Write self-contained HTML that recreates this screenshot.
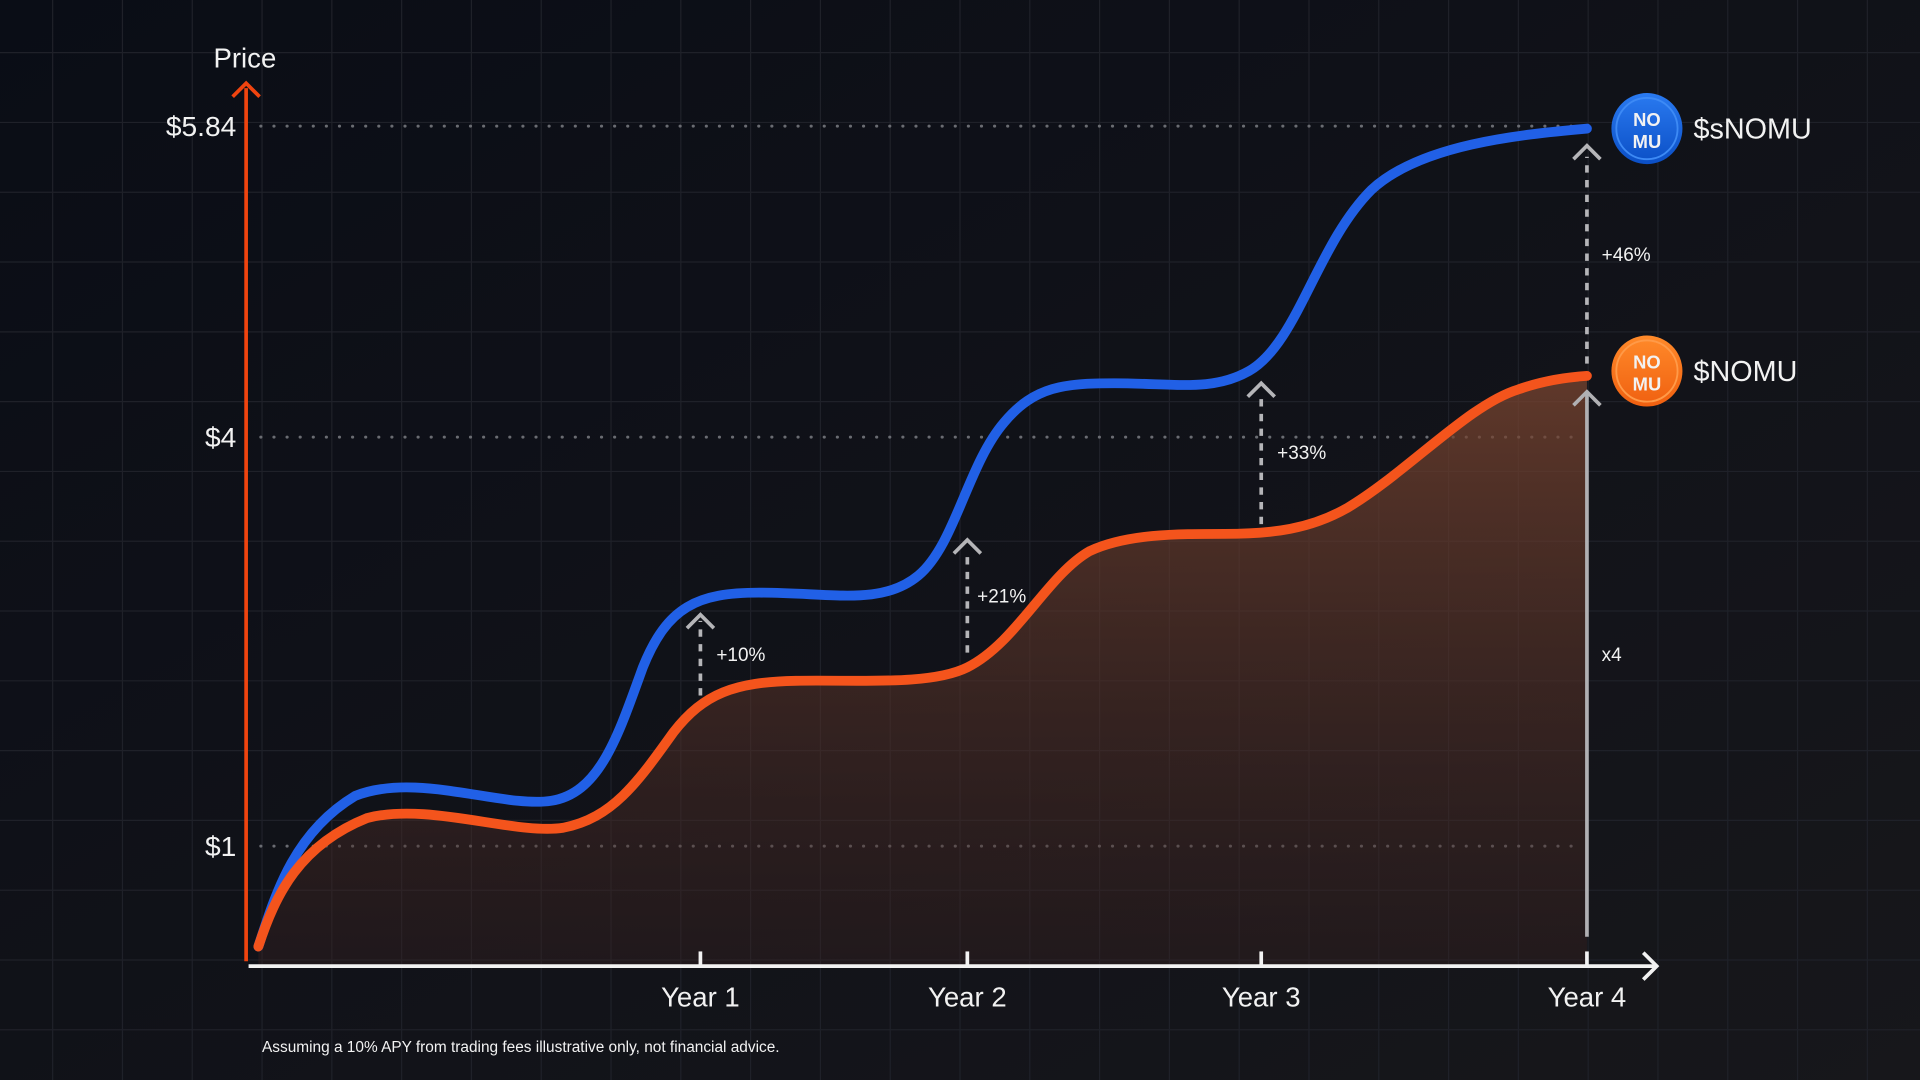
<!DOCTYPE html>
<html><head><meta charset="utf-8"><style>
html,body{margin:0;padding:0;width:1920px;height:1080px;overflow:hidden;background:#0e1016}
svg{display:block}
text{font-family:"Liberation Sans",sans-serif;fill:#f2f2f2}
</style></head><body>
<svg width="1920" height="1080" viewBox="0 0 1568 882" preserveAspectRatio="none">
<defs>
<linearGradient id="bg" x1="0" y1="0" x2="1" y2="1">
<stop offset="0" stop-color="#0a0d16"/><stop offset="1" stop-color="#17171b"/>
</linearGradient>
<linearGradient id="fill" x1="0" y1="0" x2="0" y2="1">
<stop offset="0" stop-color="#7a4530" stop-opacity="0.75"/>
<stop offset="1" stop-color="#3a2220" stop-opacity="0.35"/>
</linearGradient>
<linearGradient id="bc" x1="0" y1="0" x2="0" y2="1"><stop offset="0" stop-color="#2a7af0"/><stop offset="1" stop-color="#0b4fc6"/></linearGradient>
<linearGradient id="oc" x1="0" y1="0" x2="0" y2="1"><stop offset="0" stop-color="#ff8a2a"/><stop offset="1" stop-color="#f06010"/></linearGradient>
</defs>
<rect width="1568" height="882" fill="url(#bg)"/>
<g stroke="#1f2129" stroke-width="1">
<line x1="43" y1="0" x2="43" y2="882"/><line x1="100" y1="0" x2="100" y2="882"/><line x1="157" y1="0" x2="157" y2="882"/><line x1="214" y1="0" x2="214" y2="882"/><line x1="271" y1="0" x2="271" y2="882"/><line x1="328" y1="0" x2="328" y2="882"/><line x1="385" y1="0" x2="385" y2="882"/><line x1="442" y1="0" x2="442" y2="882"/><line x1="499" y1="0" x2="499" y2="882"/><line x1="556" y1="0" x2="556" y2="882"/><line x1="613" y1="0" x2="613" y2="882"/><line x1="670" y1="0" x2="670" y2="882"/><line x1="727" y1="0" x2="727" y2="882"/><line x1="784" y1="0" x2="784" y2="882"/><line x1="841" y1="0" x2="841" y2="882"/><line x1="898" y1="0" x2="898" y2="882"/><line x1="955" y1="0" x2="955" y2="882"/><line x1="1012" y1="0" x2="1012" y2="882"/><line x1="1069" y1="0" x2="1069" y2="882"/><line x1="1126" y1="0" x2="1126" y2="882"/><line x1="1183" y1="0" x2="1183" y2="882"/><line x1="1240" y1="0" x2="1240" y2="882"/><line x1="1297" y1="0" x2="1297" y2="882"/><line x1="1354" y1="0" x2="1354" y2="882"/><line x1="1411" y1="0" x2="1411" y2="882"/><line x1="1468" y1="0" x2="1468" y2="882"/><line x1="1525" y1="0" x2="1525" y2="882"/>
<line x1="0" y1="43" x2="1568" y2="43"/><line x1="0" y1="100" x2="1568" y2="100"/><line x1="0" y1="157" x2="1568" y2="157"/><line x1="0" y1="214" x2="1568" y2="214"/><line x1="0" y1="271" x2="1568" y2="271"/><line x1="0" y1="328" x2="1568" y2="328"/><line x1="0" y1="385" x2="1568" y2="385"/><line x1="0" y1="442" x2="1568" y2="442"/><line x1="0" y1="499" x2="1568" y2="499"/><line x1="0" y1="556" x2="1568" y2="556"/><line x1="0" y1="613" x2="1568" y2="613"/><line x1="0" y1="670" x2="1568" y2="670"/><line x1="0" y1="727" x2="1568" y2="727"/><line x1="0" y1="784" x2="1568" y2="784"/><line x1="0" y1="841" x2="1568" y2="841"/>
</g>
<g stroke="#6a6c72" stroke-width="2.5" stroke-dasharray="0.1 10.6" stroke-linecap="round">
<line x1="213" y1="103" x2="1290" y2="103"/><line x1="213" y1="357" x2="1290" y2="357"/><line x1="213" y1="691" x2="1290" y2="691"/>
</g>
<path d="M211,773 C225,730 245,690 300,668 C350,655 420,682 460,676 C500,668 520,640 550,598 C575,566 600,557 650,556 C700,555 760,560 790,545 C830,525 855,470 890,450 C920,436 960,436 1000,436 C1040,436 1070,432 1100,415 C1150,385 1200,330 1240,318 C1260,311 1280,308 1296,307 L1296,789 L211,789 Z" fill="url(#fill)"/>
<line x1="1296" y1="765" x2="1296" y2="322" stroke="#b0b0b3" stroke-width="3"/>
<path d="M1285,331 L1296,320 L1307,331" fill="none" stroke="#b0b0b3" stroke-width="3"/>
<g stroke="#b5b5b8" stroke-width="3" fill="none">
<line x1="572" y1="568" x2="572" y2="507" stroke-dasharray="6 6"/><path d="M561,513 L572,502 L583,513"/>
<line x1="790" y1="533" x2="790" y2="450" stroke-dasharray="6 6"/><path d="M779,452 L790,441 L801,452"/>
<line x1="1030" y1="428" x2="1030" y2="322" stroke-dasharray="6 6"/><path d="M1019,324 L1030,313 L1041,324"/>
<line x1="1296" y1="297" x2="1296" y2="128" stroke-dasharray="6 6"/><path d="M1285,130 L1296,119 L1307,130"/>
</g>
<path d="M211,773 C225,730 240,680 290,650 C340,630 410,660 450,654 C490,648 505,600 525,545 C545,495 570,484 620,484 C680,484 720,495 750,470 C780,445 790,380 820,345 C845,315 870,313 910,313 C960,313 990,320 1020,303 C1060,280 1075,200 1120,155 C1160,118 1240,110 1296,105" fill="none" stroke="#2160e6" stroke-width="8" stroke-linecap="round"/>
<path d="M211,773 C225,730 245,690 300,668 C350,655 420,682 460,676 C500,668 520,640 550,598 C575,566 600,557 650,556 C700,555 760,560 790,545 C830,525 855,470 890,450 C920,436 960,436 1000,436 C1040,436 1070,432 1100,415 C1150,385 1200,330 1240,318 C1260,311 1280,308 1296,307" fill="none" stroke="#f4541c" stroke-width="8" stroke-linecap="round"/>
<line x1="201" y1="785" x2="201" y2="72" stroke="#f0440f" stroke-width="3"/>
<path d="M190,79 L201,68 L212,79" fill="none" stroke="#f0440f" stroke-width="3"/>
<line x1="203" y1="789" x2="1352" y2="789" stroke="#f2f2f2" stroke-width="3"/>
<path d="M1342,778 L1353,789 L1342,800" fill="none" stroke="#f2f2f2" stroke-width="3"/>
<g stroke="#f2f2f2" stroke-width="3"><line x1="572" y1="777" x2="572" y2="789"/><line x1="790" y1="777" x2="790" y2="789"/><line x1="1030" y1="777" x2="1030" y2="789"/><line x1="1296" y1="777" x2="1296" y2="789"/></g>
<text x="200" y="55" font-size="22.5" text-anchor="middle">Price</text>
<text x="193" y="111" font-size="23" text-anchor="end">$5.84</text>
<text x="193" y="365" font-size="23" text-anchor="end">$4</text>
<text x="193" y="699" font-size="23" text-anchor="end">$1</text>
<text x="572" y="822" font-size="22.5" text-anchor="middle">Year 1</text>
<text x="790" y="822" font-size="22.5" text-anchor="middle">Year 2</text>
<text x="1030" y="822" font-size="22.5" text-anchor="middle">Year 3</text>
<text x="1296" y="822" font-size="22.5" text-anchor="middle">Year 4</text>
<text x="585" y="540" font-size="15.5">+10%</text>
<text x="798" y="492" font-size="15.5">+21%</text>
<text x="1043" y="375" font-size="15.5">+33%</text>
<text x="1308" y="213" font-size="15.5">+46%</text>
<text x="1308" y="540" font-size="15.5">x4</text>
<text x="214" y="859" font-size="12.6">Assuming a 10% APY from trading fees illustrative only, not financial advice.</text>
<circle cx="1345" cy="105" r="29" fill="url(#bc)"/><circle cx="1345" cy="105" r="25" fill="none" stroke="#3d8af5" stroke-width="1.5"/>
<text x="1345" y="103" font-size="15" font-weight="bold" text-anchor="middle">NO</text><text x="1345" y="121" font-size="15" font-weight="bold" text-anchor="middle">MU</text>
<circle cx="1345" cy="303" r="29" fill="url(#oc)"/><circle cx="1345" cy="303" r="25" fill="none" stroke="#ff9a48" stroke-width="1.5"/>
<text x="1345" y="301" font-size="15" font-weight="bold" text-anchor="middle">NO</text><text x="1345" y="319" font-size="15" font-weight="bold" text-anchor="middle">MU</text>
<text x="1383" y="113" font-size="23.5">$sNOMU</text>
<text x="1383" y="311" font-size="23.5">$NOMU</text>
</svg>
</body></html>
